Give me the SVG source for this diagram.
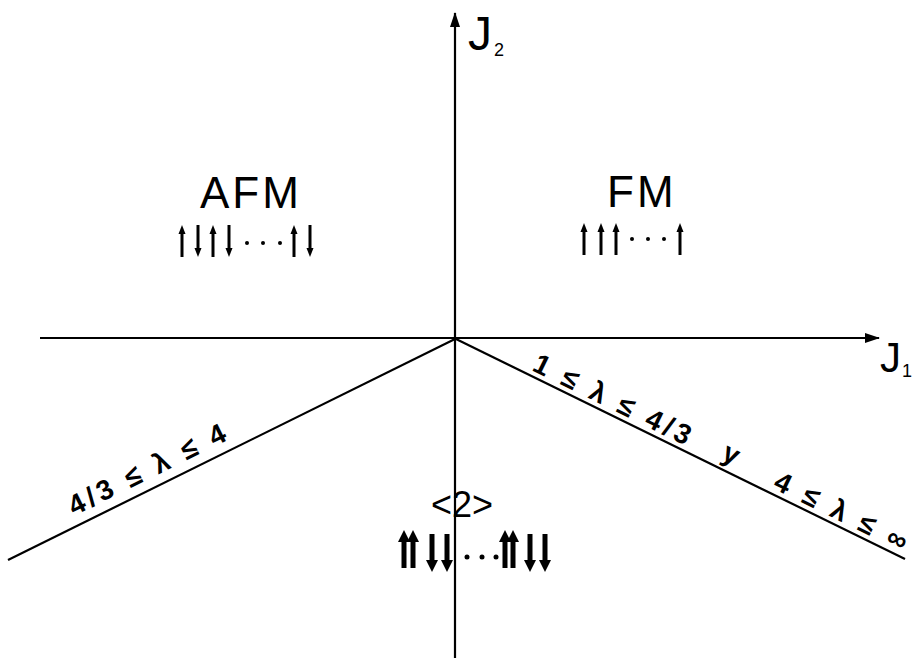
<svg xmlns="http://www.w3.org/2000/svg" xmlns:xlink="http://www.w3.org/1999/xlink" width="915" height="658" viewBox="0 0 915 658">
  <style>
    .ax { stroke: #000; stroke-width: 2.2; fill: none; }
    .t { font-family: "Liberation Sans", Arial, sans-serif; fill: #000; }
    .big { font-size: 44px; }
    .lab { font-size: 28px; font-weight: bold; letter-spacing: 4px; }
    .thin { stroke: #000; stroke-width: 3; }
    .thick { stroke: #000; stroke-width: 5; }
  </style>
  <defs>
    <marker id="axhead" markerWidth="16" markerHeight="12" refX="14" refY="6" orient="auto" markerUnits="userSpaceOnUse">
      <path d="M0,1 L15,6 L0,11 z" fill="#000"/>
    </marker>
    <g id="upThin"><line class="thin" x1="0" y1="32" x2="0" y2="5"/><path d="M-3.5,9 L0,0 L3.5,9 z" fill="#000"/></g>
    <g id="downThin"><line class="thin" x1="0" y1="0" x2="0" y2="27"/><path d="M-3.5,23 L0,32 L3.5,23 z" fill="#000"/></g>
    <g id="upThick"><line class="thick" x1="0" y1="38" x2="0" y2="8"/><path d="M-6,12 L0,0 L6,12 z" fill="#000"/></g>
    <g id="downThick"><line class="thick" x1="0" y1="0" x2="0" y2="30"/><path d="M-6,26 L0,38 L6,26 z" fill="#000"/></g>
  </defs>

  <g id="connectors">
    <line id="axis-j2" class="ax" x1="455" y1="658" x2="455" y2="13" marker-end="url(#axhead)"/>
    <line id="axis-j1" class="ax" x1="40" y1="338" x2="879" y2="338" marker-end="url(#axhead)"/>
    <line id="boundary-left" class="ax" x1="455" y1="339" x2="8" y2="560"/>
    <line id="boundary-right" class="ax" x1="456" y1="339" x2="905" y2="559"/>
  </g>

  <g id="label-j2">
    <text class="t" x="468" y="50" font-size="48">J</text>
    <text class="t" x="494" y="56" font-size="18">2</text>
  </g>
  <g id="label-j1">
    <text class="t" x="880" y="372" font-size="42">J</text>
    <text class="t" x="902" y="377" font-size="18">1</text>
  </g>

  <g id="node-afm">
    <text class="t big" x="200" y="208" letter-spacing="3">AFM</text>
    <use xlink:href="#upThin" x="182" y="225"/>
    <use xlink:href="#downThin" x="198" y="225"/>
    <use xlink:href="#upThin" x="213" y="225"/>
    <use xlink:href="#downThin" x="229" y="225"/>
    <circle cx="247" cy="243" r="2"/>
    <circle cx="263" cy="243" r="2"/>
    <circle cx="280" cy="243" r="2"/>
    <use xlink:href="#upThin" x="294" y="225"/>
    <use xlink:href="#downThin" x="310" y="225"/>
  </g>

  <g id="node-fm">
    <text class="t big" x="607" y="207" letter-spacing="3">FM</text>
    <use xlink:href="#upThin" x="584" y="223"/>
    <use xlink:href="#upThin" x="601" y="223"/>
    <use xlink:href="#upThin" x="616" y="223"/>
    <circle cx="632" cy="239" r="2"/>
    <circle cx="648" cy="239" r="2"/>
    <circle cx="664" cy="239" r="2"/>
    <use xlink:href="#upThin" x="680" y="223"/>
  </g>

  <g id="node-2">
    <text class="t" x="462" y="517" font-size="36" text-anchor="middle">&lt;2&gt;</text>
    <use xlink:href="#upThick" x="404" y="530"/>
    <use xlink:href="#upThick" x="413" y="530"/>
    <use xlink:href="#downThick" x="432" y="534"/>
    <use xlink:href="#downThick" x="447" y="534"/>
    <circle cx="467" cy="557" r="2.5"/>
    <circle cx="482" cy="557" r="2.5"/>
    <circle cx="496" cy="557" r="2.5"/>
    <use xlink:href="#upThick" x="505" y="530"/>
    <use xlink:href="#upThick" x="513" y="530"/>
    <use xlink:href="#downThick" x="530" y="534"/>
    <use xlink:href="#downThick" x="545" y="534"/>
  </g>

  <g id="label-left">
    <text class="t lab" transform="translate(74,516) rotate(-26.3)">4/3 ≤ λ ≤ 4</text>
  </g>
  <g id="label-right">
    <text class="t lab" transform="translate(531,370) rotate(26.05)">1 ≤ λ ≤ 4/3</text>
    <text class="t lab" transform="translate(729,463) rotate(26.05)" text-anchor="middle">y</text>
    <text class="t lab" transform="translate(772,488) rotate(26.05)" letter-spacing="2">4 ≤ λ ≤ ∞</text>
  </g>
</svg>
